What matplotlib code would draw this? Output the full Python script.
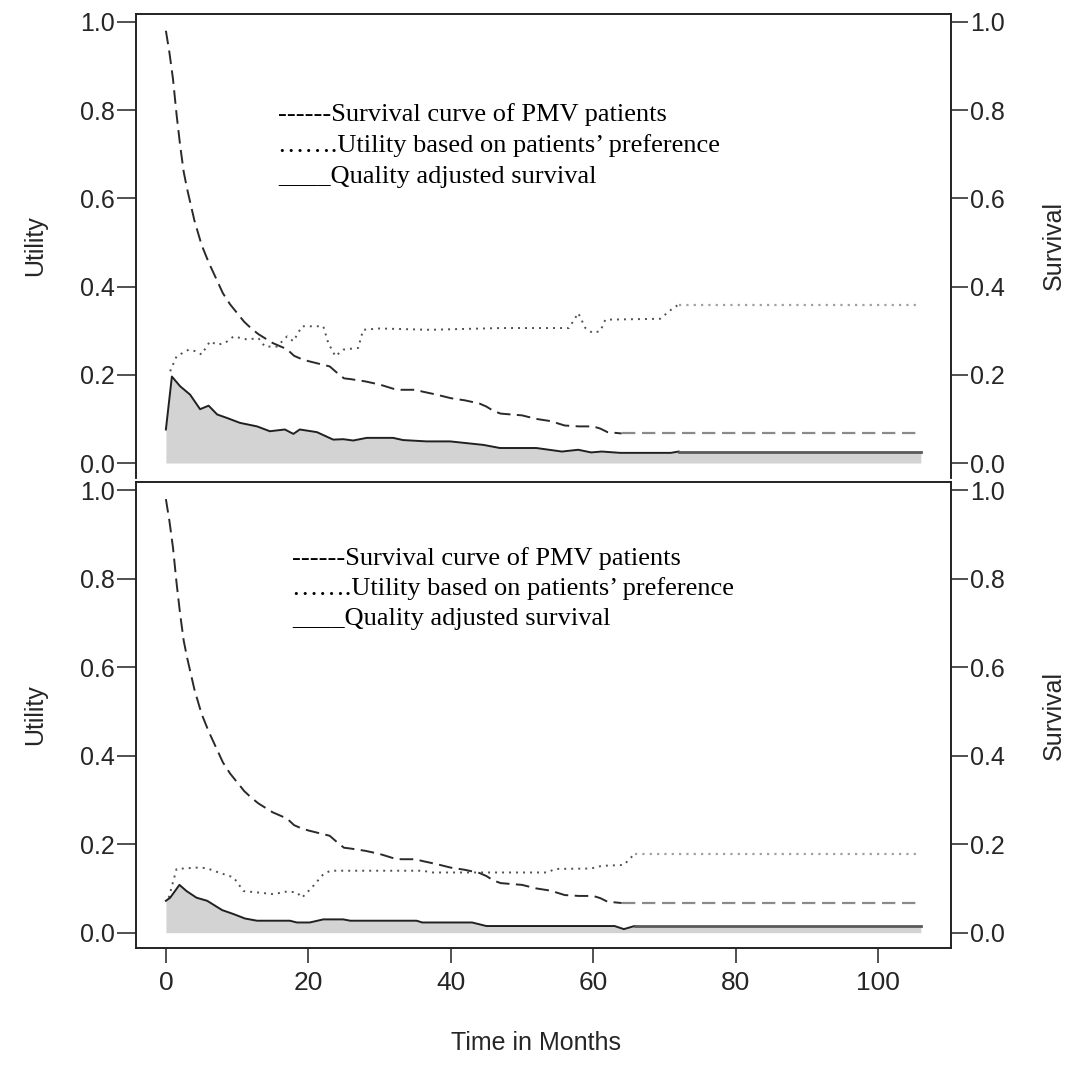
import matplotlib
matplotlib.use("Agg")
import matplotlib.pyplot as plt

# ---------------- data ----------------
surv_t = [0, 0.5, 1, 1.5, 2, 2.5, 3, 4, 5, 6, 7, 8, 9, 10, 11, 12, 13, 14, 15, 16, 17, 18, 19, 20,
          21, 22, 23, 24, 25, 26, 28, 30, 32, 33, 35, 36, 38, 40, 42, 44, 45, 46, 47, 50, 52, 54, 56,
          58, 60, 61, 62, 64, 106]
surv = [0.98, 0.93, 0.87, 0.79, 0.72, 0.66, 0.62, 0.55, 0.495, 0.455, 0.42, 0.385, 0.36, 0.34,
        0.32, 0.305, 0.292, 0.282, 0.272, 0.265, 0.258, 0.243, 0.236, 0.231, 0.227, 0.223, 0.219,
        0.205, 0.192, 0.190, 0.185, 0.178, 0.168, 0.166, 0.166, 0.162, 0.155, 0.147, 0.142, 0.135,
        0.128, 0.118, 0.112, 0.108, 0.100, 0.095, 0.085, 0.083, 0.083, 0.078, 0.070, 0.067, 0.067]

util1_t = [0.6, 1.5, 3.2, 4.3, 5.0, 6.2, 7.2, 8.3, 9.5, 11.4, 13.0, 13.9, 15.6, 17.0, 17.9, 19.1,
           22.1, 22.8, 23.8, 24.9, 27.0, 27.7, 30, 37, 47, 56.6, 57.9, 58.9, 59.9, 61.0, 61.7, 69.4,
           71.2, 72, 106]
util1 = [0.208, 0.242, 0.257, 0.253, 0.246, 0.276, 0.268, 0.272, 0.287, 0.280, 0.283, 0.264, 0.264,
         0.287, 0.276, 0.310, 0.310, 0.272, 0.242, 0.257, 0.261, 0.302, 0.305, 0.302, 0.306, 0.306,
         0.340, 0.306, 0.295, 0.299, 0.325, 0.327, 0.351, 0.359, 0.359]

qas1_t = [0, 0.84, 2.0, 3.4, 4.8, 6.0, 7.2, 8.6, 10.4, 12.8, 14.6, 16.7, 17.9, 18.8, 21.2, 23.5,
          24.9, 26.3, 28.2, 31.9, 33.3, 36.6, 39.9, 44.6, 46.9, 52, 55.6, 57.9, 59.7, 61.2, 63.8,
          70.9, 72, 106]
qas1 = [0.076, 0.196, 0.174, 0.155, 0.122, 0.130, 0.110, 0.102, 0.091, 0.083, 0.072, 0.076, 0.066,
        0.076, 0.070, 0.053, 0.054, 0.051, 0.057, 0.057, 0.052, 0.049, 0.049, 0.041, 0.034, 0.034,
        0.026, 0.030, 0.024, 0.026, 0.023, 0.023, 0.026, 0.026]

util2_t = [0.4, 1.5, 4.3, 5.7, 7.4, 9.5, 10.9, 12.8, 15.1, 17.0, 18.4, 19.1, 20.5, 22.1, 23.1, 36,
           37.5, 53.6, 54.6, 59.7, 61.2, 64.3, 65.8, 106]
util2 = [0.079, 0.144, 0.147, 0.146, 0.136, 0.125, 0.094, 0.091, 0.087, 0.093, 0.091, 0.079, 0.102,
         0.132, 0.140, 0.140, 0.136, 0.136, 0.144, 0.145, 0.151, 0.153, 0.178, 0.178]

qas2_t = [0, 0.6, 1.9, 2.9, 4.3, 5.8, 7.9, 9.5, 11.1, 12.8, 17.4, 18.4, 20.2, 22.1, 24.9, 25.9,
          35.2, 36, 43, 45, 63, 64.3, 65.8, 106]
qas2 = [0.072, 0.079, 0.108, 0.094, 0.079, 0.072, 0.051, 0.042, 0.032, 0.027, 0.027, 0.023, 0.023,
        0.030, 0.030, 0.027, 0.027, 0.023, 0.023, 0.015, 0.015, 0.008, 0.015, 0.015]

x_ticks = [0, 20, 40, 60, 80, 100]
y_ticks = [0.0, 0.2, 0.4, 0.6, 0.8, 1.0]
y_ticklabels = ["0.0", "0.2", "0.4", "0.6", "0.8", "1.0"]

legend_lines = ["------Survival curve of PMV patients",
                "\u2026\u2026.Utility based on patients\u2019 preference",
                "____Quality adjusted survival"]

# ---------------- figure ----------------
W, H = 1073, 1081
fig = plt.figure(figsize=(W / 100, H / 100), dpi=100)
SANS = "Liberation Sans"
SERIF = "Liberation Serif"
TXT = "#262626"

left, right = 135.7 / W, 951 / W
top_panel = [left, 1 - 478 / H, right - left, (478 - 14) / H]
bot_panel = [left, 1 - 947.7 / H, right - left, (947.7 - 482.3) / H]
XLIM = (-4.24, 110.24)
YLIM = (-0.034, 1.018)


def draw_panel(rect, ut, u, qt, q, show_x, ylims):
    ax = fig.add_axes(rect)
    ax.fill_between(qt, 0, q, color="#d3d3d3", lw=0, zorder=1)
    ax.plot(surv_t[:-1], surv[:-1], color="#2a2a2a", lw=1.4, ls=(0, (7, 3.3)), zorder=3)
    ax.plot(surv_t[-2:], surv[-2:], color="#8a8a8a", lw=1.6, ls=(0, (6, 3)), zorder=3)
    ax.plot(ut[:-1], u[:-1], color="#505050", lw=1.4, ls=(0, (1, 2.6)), zorder=3)
    ax.plot(ut[-2:], u[-2:], color="#a0a0a0", lw=1.6, ls=(0, (1, 2.3)), zorder=3)
    ax.plot(qt[:-1], q[:-1], color="#202020", lw=1.4, zorder=4)
    ax.plot(qt[-2:], q[-2:], color="#5a5a5a", lw=2.0, zorder=4)
    ax.set_xlim(*XLIM)
    ax.set_ylim(*ylims)
    ax.set_yticks(y_ticks)
    ax.set_yticklabels(y_ticklabels, fontfamily=SANS, fontsize=18, color=TXT)
    ax.tick_params(axis="y", direction="out", length=14, width=1.1, pad=1, color="#222")
    axr = ax.twinx()
    axr.set_ylim(*ylims)
    axr.set_yticks(y_ticks)
    axr.set_yticklabels(y_ticklabels, fontfamily=SANS, fontsize=18, color=TXT)
    axr.tick_params(axis="y", direction="out", length=12, width=1.1, pad=1.5, color="#222")
    for a in (ax, axr):
        for s in a.spines.values():
            s.set_linewidth(1.2)
            s.set_color("#222")
    if show_x:
        ax.set_xticks(x_ticks)
        ax.set_xticklabels([str(v) for v in x_ticks], fontfamily=SANS, fontsize=19, color=TXT)
        ax.tick_params(axis="x", direction="out", length=11, width=1.1, pad=6, color="#222")
    else:
        ax.set_xticks([])
        ax.spines["bottom"].set_visible(False)
        axr.spines["bottom"].set_visible(False)
    return ax


draw_panel(top_panel, util1_t, util1, qas1_t, qas1, False, YLIM)
draw_panel(bot_panel, util2_t, util2, qas2_t, qas2, True, YLIM)

# legend-like annotations (plain text in the original)
for i, line in enumerate(legend_lines):
    fig.text(278 / W, 1 - (120.7 + 31 * i) / H, line, family=SERIF, fontsize=19,
             color="black", ha="left", va="baseline")
    fig.text(292 / W, 1 - (565 + 30 * i) / H, line, family=SERIF, fontsize=19,
             color="black", ha="left", va="baseline")

# axis titles
fig.text(35 / W, 1 - 246 / H, "Utility", family=SANS, fontsize=18, color=TXT,
         rotation=90, ha="center", va="center")
fig.text(35 / W, 1 - 715 / H, "Utility", family=SANS, fontsize=18, color=TXT,
         rotation=90, ha="center", va="center")
fig.text(1054 / W, 1 - 246 / H, "Survival", family=SANS, fontsize=18, color=TXT,
         rotation=90, ha="center", va="center")
fig.text(1054 / W, 1 - 715 / H, "Survival", family=SANS, fontsize=18, color=TXT,
         rotation=90, ha="center", va="center")
fig.text(536 / W, 1 - 1043 / H, "Time in Months", family=SANS, fontsize=18, color=TXT,
         ha="center", va="center")

fig.savefig("out.png", dpi=100, facecolor="white")
